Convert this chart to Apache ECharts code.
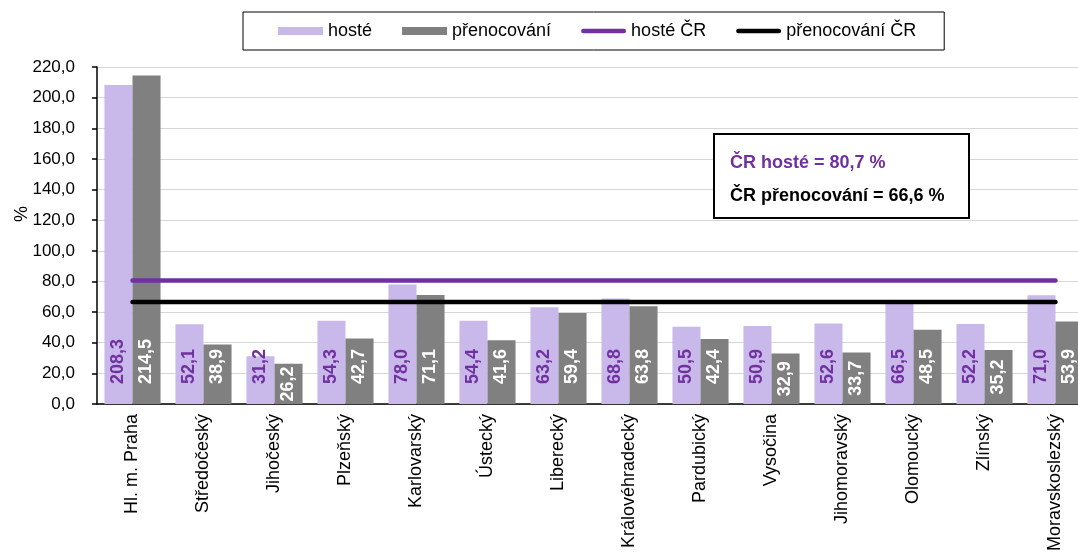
<!DOCTYPE html>
<html><head><meta charset="utf-8">
<script src="https://cdn.jsdelivr.net/npm/echarts@6/dist/echarts.min.js"></script>
<style>html,body{margin:0;padding:0;background:#fff}#c{width:1078px;height:560px}</style>
</head><body><div id="c"></div>
<script>
const categories = ['Hl. m. Praha','Středočeský','Jihočeský','Plzeňský','Karlovarský','Ústecký','Liberecký','Královéhradecký','Pardubický','Vysočina','Jihomoravský','Olomoucký','Zlínský','Moravskoslezský'];
const hoste = [208.3,52.1,31.2,54.3,78.0,54.4,63.2,68.8,50.5,50.9,52.6,66.5,52.2,71.0];
const prenocovani = [214.5,38.9,26.2,42.7,71.1,41.6,59.4,63.8,42.4,32.9,33.7,48.5,35.2,53.9];
const hosteCR = 80.7;
const prenocovaniCR = 66.6;
const yTicks = {min:0, max:220, interval:20};

const font = 'Liberation Sans, Arial, sans-serif';
const fmt = v => v.toFixed(1).replace('.', ',');
// short bars: label centred inside bar (as in source)
const withLabelPos = (arr, limit) => arr.map(v => v < limit ? {value:v, label:{position:'inside', align:'center', verticalAlign:'middle'}} : v);
const lineIcon = 'path://M2.5,0 L45.5,0 A2.5,2.5 0 0 1 45.5,5 L2.5,5 A2.5,2.5 0 0 1 2.5,0 Z';

const chart = echarts.init(document.getElementById('c'), null, {renderer:'canvas'});
chart.setOption({
  animation:false,
  textStyle:{fontFamily:font},
  grid:{left:97, top:67, width:994, height:337, containLabel:false, outerBoundsMode:'none'},
  legend:{
    left:243, top:12,
    padding:[10,28,10,35], itemGap:30,
    borderColor:'#000', borderWidth:1,
    itemWidth:45, itemHeight:8,
    textStyle:{fontSize:18, color:'#000', fontFamily:font},
    data:[
      {name:'hosté', icon:'rect'},
      {name:'přenocování', icon:'rect'},
      {name:'hosté ČR', icon:lineIcon},
      {name:'přenocování ČR', icon:lineIcon}
    ]
  },
  xAxis:{
    type:'category', data:categories,
    axisLine:{lineStyle:{color:'#000', width:1.5}},
    axisTick:{length:5, lineStyle:{color:'#000', width:1.5}},
    axisLabel:{rotate:90, fontSize:18, color:'#000', margin:10, fontFamily:font, interval:0, hideOverlap:false}
  },
  yAxis:{
    type:'value', min:yTicks.min, max:yTicks.max, interval:yTicks.interval,
    axisLine:{show:true, lineStyle:{color:'#000', width:1.5}},
    axisTick:{show:true, length:5, lineStyle:{color:'#000', width:1.5}},
    axisLabel:{fontSize:17, color:'#000', margin:22, formatter:v=>fmt(v), fontFamily:font},
    splitLine:{lineStyle:{color:'#d6d6d6', width:1}}
  },
  series:[
    {name:'hosté', type:'bar', data:withLabelPos(hoste, 30), barGap:'0%', barCategoryGap:'21%',
     itemStyle:{color:'#c9b9ea'},
     label:{show:true, position:'insideBottom', rotate:90, align:'left', verticalAlign:'middle', distance:20,
            fontSize:18, fontWeight:'bold', color:'#7030a0', formatter:p=>fmt(p.value), fontFamily:font}},
    {name:'přenocování', type:'bar', data:withLabelPos(prenocovani, 36),
     itemStyle:{color:'#808080'},
     label:{show:true, position:'insideBottom', rotate:90, align:'left', verticalAlign:'middle', distance:20,
            fontSize:18, fontWeight:'bold', color:'#fff', formatter:p=>fmt(p.value), fontFamily:font}},
    {name:'hosté ČR', type:'line', data:categories.map(()=>hosteCR), symbol:'none',
     lineStyle:{color:'#7030a0', width:4.5, cap:'round'}, itemStyle:{color:'#7030a0'}, z:5},
    {name:'přenocování ČR', type:'line', data:categories.map(()=>prenocovaniCR), symbol:'none',
     lineStyle:{color:'#000', width:4.5, cap:'round'}, itemStyle:{color:'#000'}, z:5}
  ],
  graphic:[
    {type:'text', x:22, y:214, rotation:Math.PI/2,
     style:{text:'%', fill:'#000', font:'18px Liberation Sans, Arial, sans-serif', align:'center', verticalAlign:'middle'}},
    {type:'rect', left:713, top:133, shape:{width:255, height:84},
     style:{fill:'#fff', stroke:'#000', lineWidth:2}, z:100},
    {type:'text', x:730, y:163, z:101,
     style:{text:'ČR hosté = 80,7 %', fill:'#7030a0', font:'bold 18px Liberation Sans, Arial, sans-serif', verticalAlign:'middle'}},
    {type:'text', x:730, y:196, z:101,
     style:{text:'ČR přenocování = 66,6 %', fill:'#000', font:'bold 18px Liberation Sans, Arial, sans-serif', verticalAlign:'middle'}}
  ]
});
</script></body></html>
